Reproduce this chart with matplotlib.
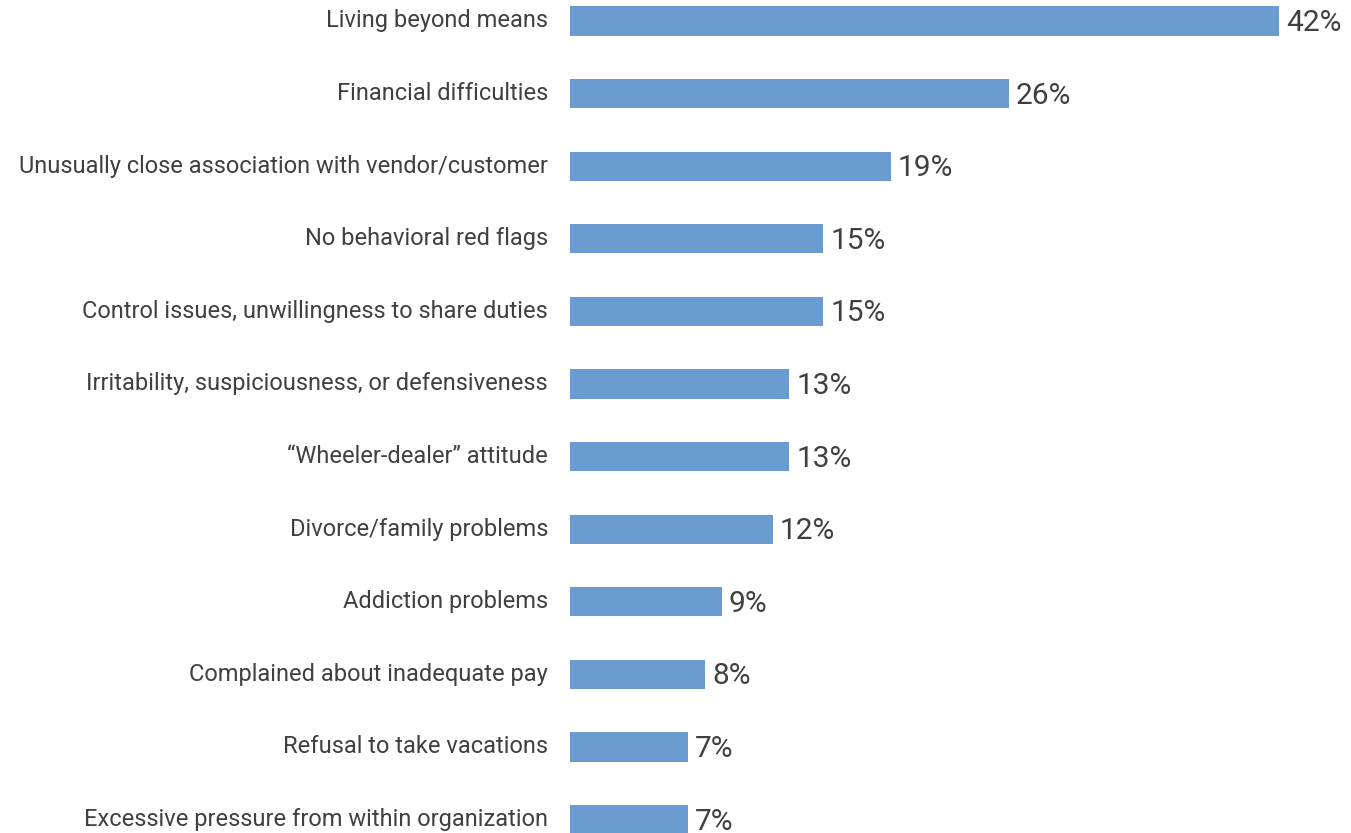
"""Behavioral red flags displayed by perpetrators, horizontal bar chart."""

import matplotlib
matplotlib.use("Agg")
import matplotlib.pyplot as plt

CATEGORIES = [
    "Living beyond means",
    "Financial difficulties",
    "Unusually close association with vendor/customer",
    "No behavioral red flags",
    "Control issues, unwillingness to share duties",
    "Irritability, suspiciousness, or defensiveness",
    "\u201cWheeler-dealer\u201d attitude",
    "Divorce/family problems",
    "Addiction problems",
    "Complained about inadequate pay",
    "Refusal to take vacations",
    "Excessive pressure from within organization",
]
PERCENTS = [42, 26, 19, 15, 15, 13, 13, 12, 9, 8, 7, 7]

BAR_COLOR = "#6a9bd1"
TEXT_COLOR = "#404040"
FONT = ["Roboto", "DejaVu Sans"]

W, H = 1351, 833


def main():
    fig = plt.figure(figsize=(W / 100, H / 100), dpi=100, facecolor="white")
    # bars start at x=570 px, 16.88 px per percent; rows 72.6 px apart
    ax = fig.add_axes([570 / W, 0, 1 - 570 / W, 1])
    ax.set_xlim(0, (W - 570) / 16.88)
    ax.set_ylim((H - 21) / 72.6, -21 / 72.6)
    ax.axis("off")

    ypos = list(range(len(CATEGORIES)))
    ax.barh(ypos, PERCENTS, height=0.4, color=BAR_COLOR)

    for y, cat, val in zip(ypos, CATEGORIES, PERCENTS):
        ax.annotate(cat, xy=(0, y), xytext=(-22, 0), textcoords="offset pixels",
                    ha="right", va="center", fontsize=17, color=TEXT_COLOR,
                    family=FONT, annotation_clip=False)
        ax.annotate(f"{val}%", xy=(val, y), xytext=(7, -2), textcoords="offset pixels",
                    ha="left", va="center", fontsize=21.5, color=TEXT_COLOR,
                    family=FONT, annotation_clip=False)

    fig.savefig("out.png", dpi=100, facecolor="white")
    plt.close(fig)


if __name__ == "__main__":
    main()
